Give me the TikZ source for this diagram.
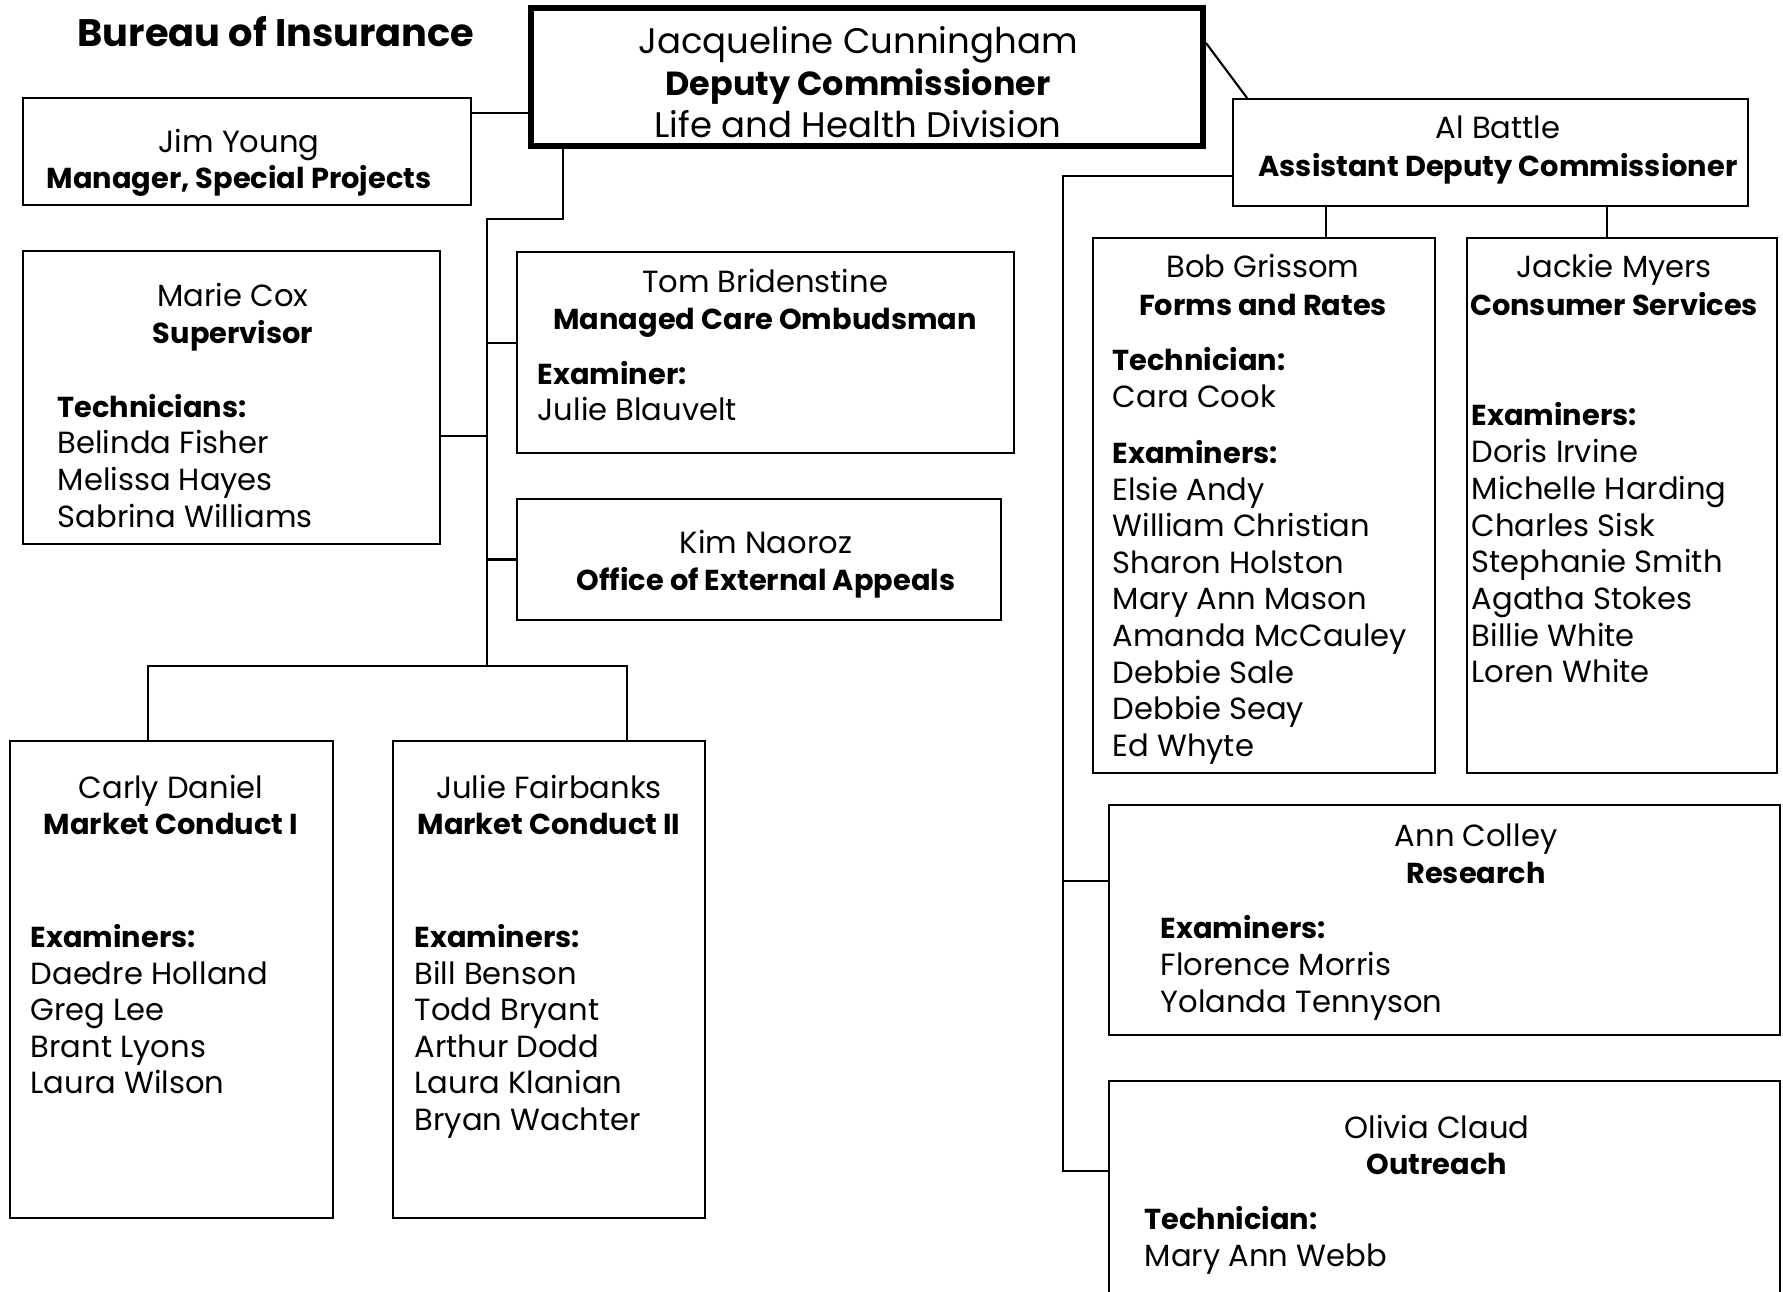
\documentclass[tikz,border=0pt]{standalone}
\usepackage{fontspec}
\setmainfont{Poppins}
\usetikzlibrary{fit}

\tikzset{
  unit/.style={draw, line width=0.6pt, inner sep=0pt},
  chief/.style={unit, line width=1.7pt},
  link/.style={line width=0.6pt},
  txt/.style={inner sep=0pt, anchor=base, yshift=-0.3mm, font=\fontsize{8.7}{10}\selectfont},
  head/.style={txt, font=\fontsize{8.2}{10}\selectfont\bfseries},
  item/.style={txt, anchor=base west},
  itemhead/.style={head, anchor=base west},
  big/.style={txt, font=\fontsize{10.1}{12}\selectfont},
  bighead/.style={txt, font=\fontsize{9.5}{12}\selectfont\bfseries},
}

\begin{document}
\begin{tikzpicture}[x=0.01cm, y=-0.01cm]
    \useasboundingbox (0,0) rectangle (1783,1292);
    \clip (0,0) rectangle (1783,1292);

    \node[txt, font=\fontsize{10.9}{13}\selectfont\bfseries] (bureau) at (276,44) {Bureau of Insurance};

    % division head
    \node[chief, fit={(531,8) (1203,146)}] (boss) {};
    \node[big] (boss-name) at (858,51) {Jacqueline Cunningham};
    \node[bighead] (boss-role) at (858,93) {Deputy Commissioner};
    \node[big] (boss-div) at (858,135) {Life and Health Division};

    % left side
    \node[unit, fit={(23,98) (471,205)}] (young) {};
    \node[txt] (young-name) at (239,150) {Jim Young};
    \node[head] (young-role) at (239,186) {Manager, Special Projects};

    \node[unit, fit={(23,251) (440,544)}] (cox) {};
    \node[txt] (cox-name) at (233,304) {Marie Cox};
    \node[head] (cox-role) at (233,341) {Supervisor};
    \node[itemhead] (cox-head) at (57,415) {Technicians:};
    \foreach \who [count=\i from 0] in {Belinda Fisher, Melissa Hayes, Sabrina Williams}
        \node[item] (cox-\i) at (57,{451+36.6*\i}) {\who};

    \node[unit, fit={(517,252) (1014,453)}] (brid) {};
    \node[txt] (brid-name) at (765,290) {Tom Bridenstine};
    \node[head] (brid-role) at (765,327) {Managed Care Ombudsman};
    \node[itemhead] (brid-head) at (537,382) {Examiner:};
    \node[item] (brid-0) at (537,418) {Julie Blauvelt};

    \node[unit, fit={(517,499) (1001,620)}] (naoroz) {};
    \node[txt] (naoroz-name) at (766,550) {Kim Naoroz};
    \node[head] (naoroz-role) at (766,587) {Office of External Appeals};

    \node[unit, fit={(10,741) (333,1218)}] (daniel) {};
    \node[txt] (daniel-name) at (171,795) {Carly Daniel};
    \node[head] (daniel-role) at (171,831) {Market Conduct I};
    \node[itemhead] (daniel-head) at (30,944) {Examiners:};
    \foreach \who [count=\i from 0] in {Daedre Holland, Greg Lee, Brant Lyons, Laura Wilson}
        \node[item] (daniel-\i) at (30,{981+36.6*\i}) {\who};

    \node[unit, fit={(393,741) (705,1218)}] (fairbanks) {};
    \node[txt] (fairbanks-name) at (549,795) {Julie Fairbanks};
    \node[head] (fairbanks-role) at (549,831) {Market Conduct II};
    \node[itemhead] (fairbanks-head) at (414,944) {Examiners:};
    \foreach \who [count=\i from 0] in {Bill Benson, Todd Bryant, Arthur Dodd, Laura Klanian, Bryan Wachter}
        \node[item] (fairbanks-\i) at (414,{981+36.6*\i}) {\who};

    % right side
    \node[unit, fit={(1233,99) (1748,206)}] (battle) {};
    \node[txt] (battle-name) at (1498,136) {Al Battle};
    \node[head] (battle-role) at (1498,174) {Assistant Deputy Commissioner};

    \node[unit, fit={(1093,238) (1435,773)}] (grissom) {};
    \node[txt] (grissom-name) at (1263,275) {Bob Grissom};
    \node[head] (grissom-role) at (1263,313) {Forms and Rates};
    \node[itemhead] (grissom-tech) at (1112,368) {Technician:};
    \node[item] (grissom-cook) at (1112,405) {Cara Cook};
    \node[itemhead] (grissom-head) at (1112,461) {Examiners:};
    \foreach \who [count=\i from 0] in {Elsie Andy, William Christian, Sharon Holston, Mary Ann Mason,
        Amanda McCauley, Debbie Sale, Debbie Seay, Ed Whyte}
        \node[item] (grissom-\i) at (1112,{497+36.6*\i}) {\who};

    \node[unit, fit={(1467,238) (1777,773)}] (myers) {};
    \node[txt] (myers-name) at (1614,275) {Jackie Myers};
    \node[head] (myers-role) at (1614,313) {Consumer Services};
    \node[itemhead] (myers-head) at (1471,423) {Examiners:};
    \foreach \who [count=\i from 0] in {Doris Irvine, Michelle Harding, Charles Sisk, Stephanie Smith,
        Agatha Stokes, Billie White, Loren White}
        \node[item] (myers-\i) at (1471,{460+36.6*\i}) {\who};

    \node[unit, fit={(1109,805) (1780,1035)}] (colley) {};
    \node[txt] (colley-name) at (1476,843) {Ann Colley};
    \node[head] (colley-role) at (1476,880) {Research};
    \node[itemhead] (colley-head) at (1160,935) {Examiners:};
    \node[item] (colley-0) at (1160,972) {Florence Morris};
    \node[item] (colley-1) at (1160,1009) {Yolanda Tennyson};

    \node[unit, fit={(1109,1081) (1780,1340)}] (claud) {};
    \node[txt] (claud-name) at (1437,1135) {Olivia Claud};
    \node[head] (claud-role) at (1437,1171) {Outreach};
    \node[itemhead] (claud-head) at (1144,1226) {Technician:};
    \node[item] (claud-0) at (1144,1263) {Mary Ann Webb};

    % reporting lines
    \coordinate (spine) at (487,219);
    \coordinate (fork) at (487,666);
    \draw[link] (young.east |- 0,113) -- (boss.west |- 0,113);
    \draw[link] (boss.south -| 563,0) |- (spine) -- (fork);
    \draw[link] (cox.east |- 0,436) -- (spine |- 0,436);
    \draw[link] (brid.west |- 0,343) -- (spine |- 0,343);
    \draw[link] (naoroz.west) -- (naoroz.west -| spine);
    \draw[link] (daniel.north -| 148,0) |- (fork) -| (fairbanks.north -| 627,0);

    \coordinate (rspine) at (1063,176);
    \draw[link] (boss.east |- 0,43) -- (battle.north -| 1247,0);
    \draw[link] (battle.west |- rspine) -- (rspine) |- (claud.west |- 0,1171);
    \draw[link] (colley.west |- 0,881) -- (rspine |- 0,881);
    \draw[link] (battle.south -| 1326,0) -- (grissom.north -| 1326,0);
    \draw[link] (battle.south -| 1607,0) -- (myers.north -| 1607,0);
\end{tikzpicture}
\end{document}
